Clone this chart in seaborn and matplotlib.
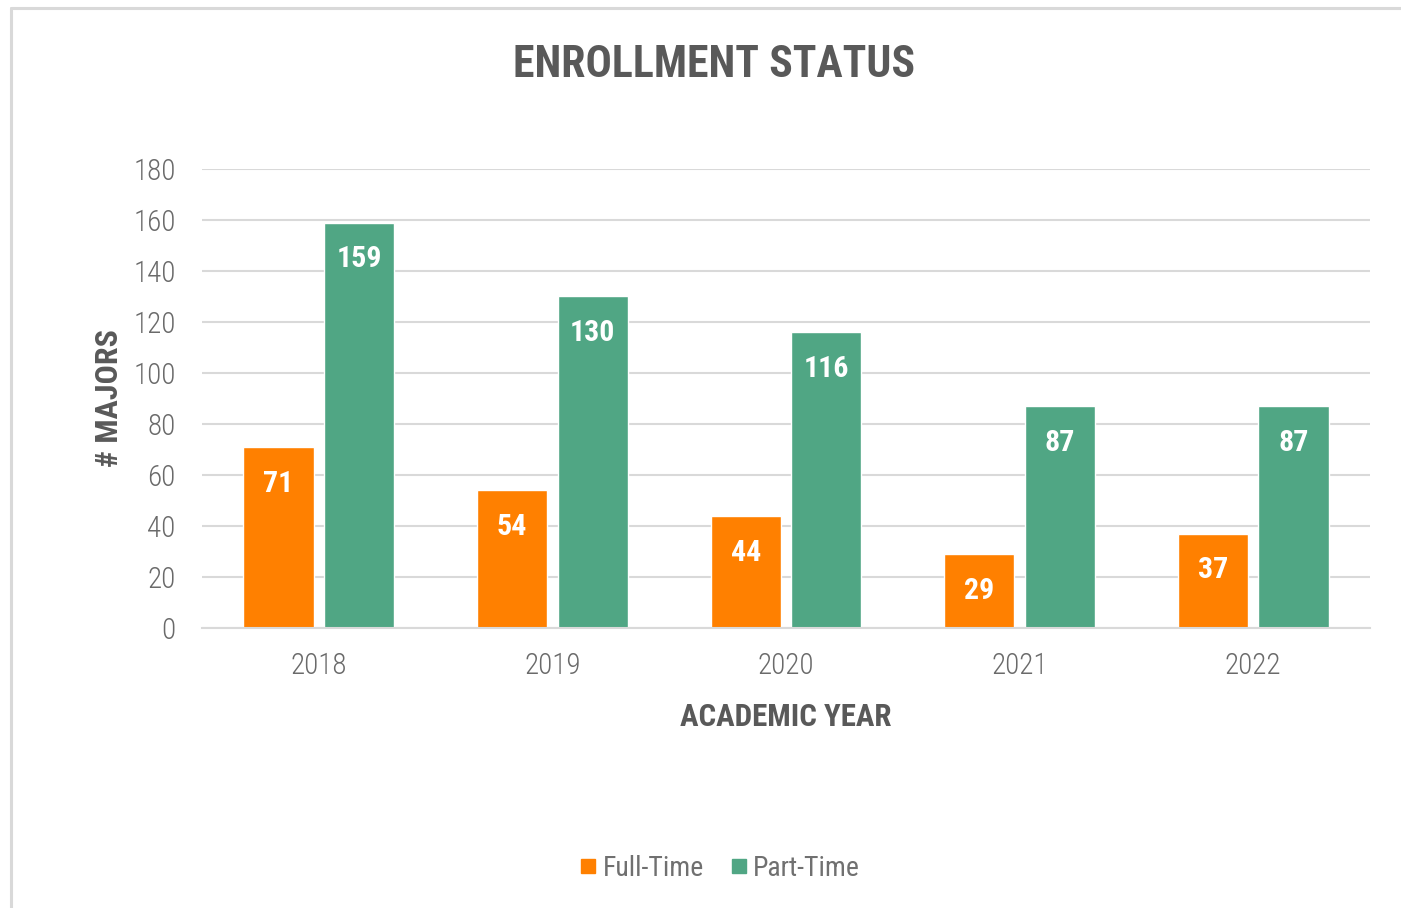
import pandas as pd
import matplotlib
matplotlib.use("Agg")
import matplotlib.pyplot as plt
from matplotlib import font_manager
from matplotlib.lines import Line2D
import seaborn as sns

years = ["2018", "2019", "2020", "2021", "2022"]
full_time = [71, 54, 44, 29, 37]
part_time = [159, 130, 116, 87, 87]
statuses = ["Full-Time", "Part-Time"]
colors = {"Full-Time": "#FF8000", "Part-Time": "#50A684"}
y_ticks = [0, 20, 40, 60, 80, 100, 120, 140, 160, 180]

df = pd.DataFrame({
    "year": years * 2,
    "status": ["Full-Time"] * len(years) + ["Part-Time"] * len(years),
    "count": full_time + part_time,
})

sns.set_theme(style="white")
names = {f.name for f in font_manager.fontManager.ttflist}
fam = "Roboto Condensed" if "Roboto Condensed" in names else "Roboto"
plt.rcParams["font.family"] = [fam, "DejaVu Sans"]

dark = "#595959"
grid = "#D9D9D9"

fig = plt.figure(figsize=(14.01, 9.08), dpi=100)
ax = fig.add_axes([0.1442, 0.3084, 0.8337, 0.5055])

sns.barplot(data=df, x="year", y="count", hue="status", hue_order=statuses,
            palette=colors, saturation=1, width=0.69, gap=0.13,
            order=years, ax=ax, legend=True)

ax.set_ylim(0, 180)
ax.set_xlim(-0.5, len(years) - 0.5)
ax.set_yticks(y_ticks)
ax.yaxis.grid(True, color=grid, linewidth=1.5)
ax.set_axisbelow(True)
for s in ["top", "right", "left"]:
    ax.spines[s].set_visible(False)
ax.spines["bottom"].set_color(grid)
ax.spines["bottom"].set_linewidth(1.5)
ax.tick_params(axis="both", length=0, labelsize=21, labelcolor="#6a6a6a")
ax.tick_params(axis="y", pad=19)
ax.tick_params(axis="x", pad=17)
for lab in ax.get_xticklabels() + ax.get_yticklabels():
    lab.set_fontweight("light")

ax.set_xlabel("ACADEMIC YEAR", fontsize=22.3, fontweight="bold", color=dark, labelpad=16)
ax.set_ylabel("# MAJORS", fontsize=23, fontweight="bold", color=dark, labelpad=7)

# value labels inside the bars
for cont in ax.containers:
    for bar in cont:
        h = bar.get_height()
        ax.annotate(f"{h:.0f}", (bar.get_x() + bar.get_width() / 2, h),
                    xytext=(0, -26.5), textcoords="offset points",
                    ha="center", va="center", color="white",
                    fontsize=21.5, fontweight="bold")

ax.get_legend().remove()
handles = [Line2D([], [], marker="s", linestyle="", markersize=10.5,
                  markerfacecolor=colors[s], markeredgecolor=colors[s]) for s in statuses]
fig.legend(handles, statuses, loc="center", bbox_to_anchor=(0.5135, 0.044), ncol=2,
           frameon=False, fontsize=20, labelcolor="#707070", handletextpad=0.17,
           columnspacing=0.9, handlelength=0.7)

fig.text(0.5096, 0.928, "ENROLLMENT STATUS", ha="center", va="center",
         fontsize=31.5, fontweight="bold", color=dark)

# outer chart border (top and left edges visible in the crop)
fig.add_artist(Line2D([0.0075, 1.0], [0.991, 0.991], color=grid, linewidth=2.2,
                      transform=fig.transFigure))
fig.add_artist(Line2D([0.0075, 0.0075], [0.0, 0.991], color=grid, linewidth=2.2,
                      transform=fig.transFigure))

fig.savefig("out.png", dpi=100, facecolor="white")
